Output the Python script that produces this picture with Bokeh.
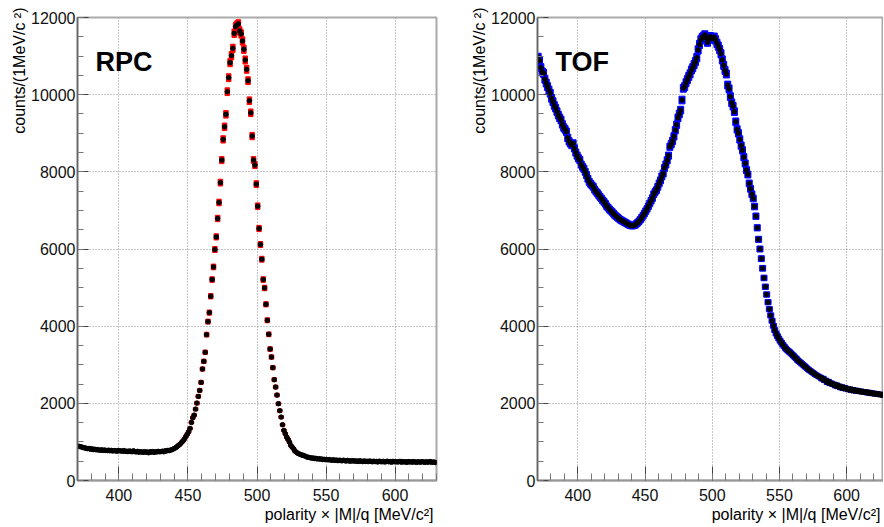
import numpy as np
from bokeh.plotting import figure
from bokeh.layouts import row
from bokeh.models import Label, Title, SingleIntervalTicker, Range1d, ColumnDataSource
from bokeh.embed import file_html
from bokeh.resources import INLINE

# bin centres: 370.5 ... 629.5 MeV/c^2 (1 MeV bins)
bin_low = list(range(370, 630))

rpc_counts = [
    890, 880, 875, 860, 850, 845, 830, 825, 830, 810,
    820, 800, 810, 795, 800, 790, 785, 795, 780, 790,
    780, 775, 785, 770, 780, 765, 775, 770, 760, 775,
    770, 765, 760, 775, 755, 760, 750, 765, 755, 745,
    770, 750, 740, 755, 735, 745, 740, 730, 745, 735,
    740, 720, 745, 735, 750, 730, 745, 740, 755, 745,
    750, 760, 745, 770, 765, 780, 775, 790, 800, 820,
    835, 860, 890, 920, 950, 990, 1030, 1080, 1140, 1200,
    1264, 1350, 1505, 1627, 1695, 1850, 2006, 2180, 2335, 2543,
    2889, 3088, 3322, 3780, 4118, 4352, 4775, 5208, 5535, 5987,
    6314, 6791, 7206, 7720, 8304, 8841, 9168, 9490, 10077, 10440,
    10830, 11011, 11202, 11592, 11764, 11808, 11834, 11650, 11574, 11392,
    11176, 10899, 10657, 10362, 9843, 9531, 8927, 8304, 8174, 7681,
    7110, 6531, 6116, 5735, 5208, 4990, 4567, 4152, 3789, 3407,
    3200, 2924, 2613, 2422, 2214, 1990, 1809, 1643, 1445, 1298,
    1212, 1124, 1064, 994, 908, 864, 823, 760, 734, 705,
    690, 675, 660, 650, 640, 620, 605, 600, 590, 580,
    585, 570, 575, 560, 565, 555, 560, 545, 550, 540,
    545, 535, 540, 530, 525, 535, 520, 530, 515, 525,
    520, 510, 525, 515, 505, 520, 510, 500, 515, 505,
    510, 500, 505, 495, 510, 500, 490, 505, 495, 500,
    490, 505, 495, 485, 500, 490, 495, 480, 500, 490,
    485, 495, 480, 490, 500, 485, 490, 475, 495, 485,
    490, 480, 485, 495, 475, 490, 480, 485, 470, 490,
    480, 485, 475, 490, 480, 470, 485, 480, 475, 490,
    480, 470, 485, 475, 480, 490, 470, 480, 475, 465,
]

tof_counts = [
    10968, 10881, 10700, 10590, 10553, 10400, 10300, 10210, 10120, 10035,
    9905, 9820, 9720, 9650, 9560, 9470, 9400, 9342, 9230, 9150,
    9100, 9040, 8880, 8790, 8737, 8693, 8737, 8607, 8500, 8420,
    8350, 8304, 8190, 8131, 8080, 8000, 7915, 7820, 7740, 7690,
    7650, 7611, 7540, 7490, 7450, 7400, 7352, 7310, 7260, 7220,
    7170, 7110, 7070, 7030, 6990, 6960, 6920, 6880, 6850, 6820,
    6790, 6760, 6740, 6720, 6700, 6680, 6660, 6640, 6620, 6610,
    6600, 6610, 6620, 6650, 6680, 6720, 6760, 6810, 6860, 6920,
    6980, 7040, 7110, 7180, 7250, 7320, 7420, 7480, 7526, 7610,
    7699, 7780, 7880, 7958, 8100, 8190, 8300, 8420, 8650, 8720,
    8800, 8920, 9080, 9220, 9400, 9500, 9600, 9861, 10165, 10210,
    10310, 10390, 10470, 10540, 10640, 10700, 10780, 10860, 10960, 11159,
    11300, 11420, 11480, 11510, 11548, 11470, 11360, 11440, 11504, 11462,
    11462, 11490, 11420, 11330, 11260, 11170, 11060, 10900, 10760, 10630,
    10536, 10250, 10150, 9950, 9790, 9700, 9560, 9300, 9100, 9000,
    8840, 8680, 8560, 8380, 8218, 8044, 7930, 7700, 7560, 7420,
    7310, 7100, 6850, 6550, 6250, 6000, 5750, 5500, 5250, 5020,
    4820, 4620, 4440, 4280, 4140, 4010, 3900, 3810, 3740, 3680,
    3620, 3570, 3520, 3475, 3430, 3390, 3360, 3330, 3300, 3265,
    3230, 3195, 3160, 3120, 3090, 3063, 3030, 3000, 2970, 2940,
    2910, 2880, 2850, 2830, 2800, 2780, 2750, 2730, 2710, 2690,
    2673, 2630, 2650, 2590, 2600, 2540, 2570, 2510, 2530, 2490,
    2500, 2450, 2480, 2430, 2450, 2400, 2430, 2380, 2410, 2370,
    2390, 2350, 2375, 2330, 2360, 2320, 2345, 2310, 2335, 2300,
    2320, 2290, 2310, 2280, 2300, 2265, 2290, 2255, 2275, 2245,
    2265, 2235, 2255, 2225, 2245, 2215, 2230, 2205, 2220, 2200,
]

panel_titles = ["RPC", "TOF"]
y_title = "counts/(1MeV/c \u00b2)"
x_title = "polarity \u00d7 |M|/q [MeV/c\u00b2]"

FONT = "Liberation Sans"
H = 526
BT, BB = 17, 46
FRAME_H = H - BT - BB


def make_panel(counts, box_color, box_w, title, width, b_left, b_right, x_end, ytitle_off):
    centers = np.array(bin_low, dtype=float) + 0.5
    vals = np.array(counts, dtype=float)
    src = ColumnDataSource(dict(x=centers, y=vals, h=2.0 * np.sqrt(vals)))

    p = figure(width=width, height=H, output_backend="svg", toolbar_location=None,
               x_range=Range1d(370, x_end), y_range=Range1d(0, 12000),
               min_border_left=b_left, min_border_right=b_right,
               min_border_top=BT, min_border_bottom=BB)
    p.background_fill_color = "white"
    p.border_fill_color = "white"
    p.outline_line_color = "#aaaaaa"
    p.outline_line_width = 2

    p.xaxis.ticker = SingleIntervalTicker(interval=50, num_minor_ticks=5)
    p.yaxis.ticker = SingleIntervalTicker(interval=2000, num_minor_ticks=4)

    for ax in (p.xaxis[0], p.yaxis[0]):
        ax.major_tick_out = 0
        ax.minor_tick_out = 0
        ax.major_label_text_font = FONT
        ax.major_label_text_font_size = "16px"
        ax.major_label_text_color = "#111111"
        ax.major_tick_line_color = "#444444"
        ax.minor_tick_line_color = "#777777"
    p.xaxis.major_tick_in = 14
    p.xaxis.minor_tick_in = 7
    p.yaxis.major_tick_in = 11
    p.yaxis.minor_tick_in = 6
    p.xaxis.axis_line_color = "#999999"
    p.xaxis.axis_line_width = 2
    p.yaxis.axis_line_color = "#666666"
    p.yaxis.axis_line_width = 1.5
    p.xaxis.major_label_standoff = 8
    p.yaxis.major_label_standoff = 2

    for g in (p.xgrid[0], p.ygrid[0]):
        g.grid_line_color = "#8c8c8c"
        g.grid_line_dash = "1 2"
        g.grid_line_width = 1

    p.rect(x="x", y="y", width=box_w, height="h", width_units="screen", source=src,
           fill_color=box_color, line_color=box_color, line_width=1)
    p.scatter(x="x", y="y", size=4.5, marker="circle", source=src,
              fill_color="black", line_color="black")

    p.add_layout(Label(x=18, y=FRAME_H - 44, x_units="screen", y_units="screen",
                       text=title, text_font=FONT, text_font_style="bold",
                       text_font_size="27px", text_color="black",
                       text_align="left", text_baseline="alphabetic"))
    p.add_layout(Title(text=y_title, align="right", offset=ytitle_off, standoff=2,
                       text_font=FONT, text_font_size="16px",
                       text_font_style="normal", text_color="black"), "left")
    p.add_layout(Title(text=x_title, align="right", offset=3, standoff=0,
                       text_font=FONT, text_font_size="16px",
                       text_font_style="normal", text_color="black"), "below")
    return p


p1 = make_panel(rpc_counts, "#ff0000", 4.5, panel_titles[0], 442, 77, 6, 630, -10)
p2 = make_panel(tof_counts, "#0000ff", 6, panel_titles[1], 441, 95, 0, 627.4, -10)

layout = row(p1, p2)
open("out.html", "w").write(file_html(layout, INLINE))
